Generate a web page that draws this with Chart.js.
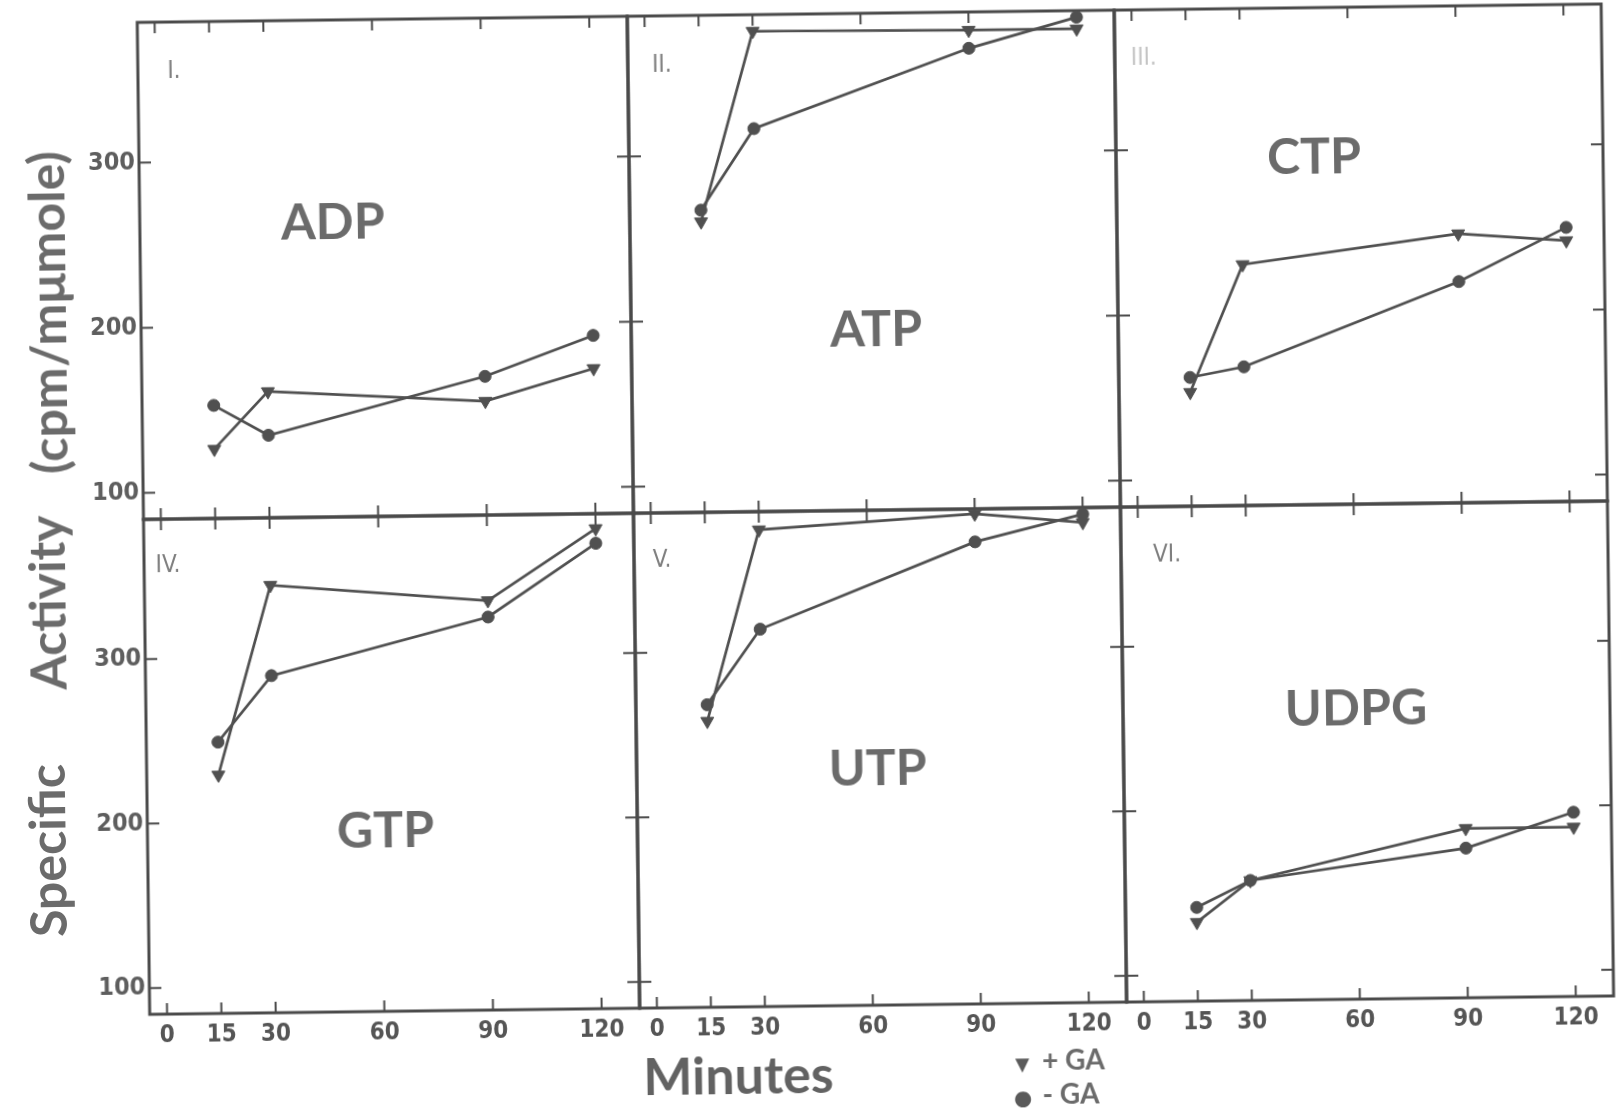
<!DOCTYPE html>
<html>
<head>
<meta charset="utf-8">
<script src="https://cdn.jsdelivr.net/npm/chart.js@4.4.1/dist/chart.umd.min.js"></script>
<style>
  html, body { margin: 0; padding: 0; background: #fff; }
  body { width: 1623px; height: 1112px; overflow: hidden; position: relative; }
  #fig { position: absolute; left: 0; top: 0; width: 1623px; height: 1112px;
         transform: rotate(-0.72deg); transform-origin: 811px 556px; }
  .t { position: absolute; white-space: pre; transform: translate(-50%, -50%); line-height: 1; }
  .pname { font-family: Lato, "Open Sans", sans-serif; font-weight: 700; font-size: 50px; color: #6b6b6b; }
  .num { font-family: "Liberation Sans Narrow", "DejaVu Sans Condensed", sans-serif; font-size: 24px; color: #7e7e7e; }
  .ytitle { font-family: Lato, "Open Sans", sans-serif; font-weight: 700; font-size: 50px; color: #6b6b6b;
            transform: translate(-50%, -50%) rotate(-90deg); }
  .xtitle { font-family: Lato, "Open Sans", sans-serif; font-weight: 700; font-size: 52px; color: #626262; }
  #legend { position: absolute; left: 1003px; top: 1047px; font-family: Lato, "Open Sans", sans-serif;
            font-weight: 700; font-size: 28px; color: #6b6b6b; line-height: 30px; }
  #legend .sym { display: inline-block; width: 26px; text-align: center; vertical-align: middle; color: #5a5a5a; line-height: 30px; }
</style>
</head>
<body>
<div id="fig"></div>
<script>
// ---------------- data ----------------
const minutes = [15, 30, 90, 120];
const xTickValues = [0, 15, 30, 60, 90, 120];
const yTickValues = [100, 200, 300];
const seriesLabels = ['+ GA', '- GA'];

const panelNames = ['ADP', 'ATP', 'CTP', 'GTP', 'UTP', 'UDPG'];
const panelNumerals = ['I.', 'II.', 'III.', 'IV.', 'V.', 'VI.'];

const adpPlusGA   = [126, 160.5, 153, 172];
const adpMinusGA  = [152.5, 134, 168, 192];
const atpPlusGA   = [260, 375, 374, 374];
const atpMinusGA  = [267, 316, 363, 381];
const ctpPlusGA   = [153, 230, 247, 242];
const ctpMinusGA  = [162, 168, 218, 250];
const gtpPlusGA   = [229, 344, 333, 376];
const gtpMinusGA  = [249, 289, 323, 367];
const utpPlusGA   = [258, 374, 382, 376];
const utpMinusGA  = [268, 313.5, 365, 381];
const udpgPlusGA  = [132, 157, 187, 187];
const udpgMinusGA = [141, 157, 175, 196];

const xTitle = 'Minutes';
const yTitleWords = ['Specific', 'Activity', '(cpm/mμmole)'];

// ---------------- layout ----------------
const colX = [144, 634, 1121, 1608];
const rowY = [14, 511, 1006];
const xRange = [-4.8, 130.5];
const yRange = [84, 385];
const INK = '#505050';
const FRAME = '#4a4a4a';

const panels = [
  { plus: adpPlusGA,  minus: adpMinusGA,  row: 0, col: 0, nameAt: [337, 214],  numAt: [180, 62] },
  { plus: atpPlusGA,  minus: atpMinusGA,  row: 0, col: 1, nameAt: [879, 328],  numAt: [668, 62] },
  { plus: ctpPlusGA,  minus: ctpMinusGA,  row: 0, col: 2, nameAt: [1319, 161], numAt: [1150, 61] },
  { plus: gtpPlusGA,  minus: gtpMinusGA,  row: 1, col: 0, nameAt: [382, 823],  numAt: [168, 556] },
  { plus: utpPlusGA,  minus: utpMinusGA,  row: 1, col: 1, nameAt: [875, 767],  numAt: [662, 557] },
  { plus: udpgPlusGA, minus: udpgMinusGA, row: 1, col: 2, nameAt: [1354, 713], numAt: [1167, 558] }
];

const fig = document.getElementById('fig');

const framePlugin = {
  id: 'frameTicks',
  beforeDatasetsDraw(chart) {
    const { ctx, chartArea: a, scales } = chart;
    ctx.save();
    ctx.strokeStyle = FRAME;
    ctx.lineWidth = 3;
    ctx.strokeRect(a.left, a.top, a.right - a.left, a.bottom - a.top);
    ctx.lineWidth = 2;
    ctx.beginPath();
    xTickValues.forEach(v => {
      const px = scales.x.getPixelForValue(v);
      ctx.moveTo(px, a.bottom); ctx.lineTo(px, a.bottom - 11);
      ctx.moveTo(px, a.top); ctx.lineTo(px, a.top + 11);
    });
    yTickValues.forEach(v => {
      const py = scales.y.getPixelForValue(v);
      ctx.moveTo(a.left, py); ctx.lineTo(a.left + 12, py);
      ctx.moveTo(a.right, py); ctx.lineTo(a.right - 12, py);
    });
    ctx.stroke();
    ctx.restore();
  }
};

const tickFamily = "'Liberation Sans Narrow', 'Arial Narrow', 'DejaVu Sans Condensed', sans-serif";

panels.forEach((p, i) => {
  const L = colX[p.col], R = colX[p.col + 1], T = rowY[p.row], B = rowY[p.row + 1];
  const W = R - L, H = B - T;
  const padL = 70, padR = 30, padT = 30, padB = 50;
  const cv = document.createElement('canvas');
  cv.width = W + padL + padR;
  cv.height = H + padT + padB;
  cv.style.cssText = `position:absolute;left:${L - padL}px;top:${T - padT}px;width:${cv.width}px;height:${cv.height}px;`;
  fig.appendChild(cv);

  const pts = arr => minutes.map((m, k) => ({ x: m, y: arr[k] }));

  new Chart(cv, {
    type: 'line',
    data: {
      datasets: [
        { label: seriesLabels[0], data: pts(p.plus), borderColor: INK, backgroundColor: INK,
          borderWidth: 2.7, pointStyle: 'triangle', pointRotation: 180, pointRadius: 7.5,
          pointBackgroundColor: INK, pointBorderColor: INK, pointBorderWidth: 1, tension: 0, clip: false },
        { label: seriesLabels[1], data: pts(p.minus), borderColor: INK, backgroundColor: INK,
          borderWidth: 2.7, pointStyle: 'circle', pointRadius: 6,
          pointBackgroundColor: INK, pointBorderColor: INK, pointBorderWidth: 1, tension: 0, clip: false }
      ]
    },
    options: {
      responsive: false, animation: false, devicePixelRatio: 1,
      layout: { padding: { left: 0, right: padR, top: padT, bottom: 0 } },
      plugins: { legend: { display: false }, tooltip: { enabled: false } },
      scales: {
        x: {
          type: 'linear', min: xRange[0], max: xRange[1],
          afterBuildTicks: s => { s.ticks = xTickValues.map(v => ({ value: v })); },
          afterFit: s => { s.height = padB; },
          grid: { display: false, drawTicks: false }, border: { display: false },
          ticks: { display: p.row === 1, font: { family: tickFamily, size: 24, weight: 'bold' }, color: '#555', padding: 7,
                   maxRotation: 0, autoSkip: false, callback: v => String(v) }
        },
        y: {
          type: 'linear', min: yRange[0], max: yRange[1],
          afterBuildTicks: s => { s.ticks = yTickValues.map(v => ({ value: v })); },
          afterFit: s => { s.width = padL; },
          grid: { display: false, drawTicks: false }, border: { display: false },
          ticks: { display: p.col === 0, font: { family: tickFamily, size: 25, weight: 'bold' }, color: '#5e5e5e', padding: 4,
                   autoSkip: false, callback: v => String(v) }
        }
      }
    },
    plugins: [framePlugin]
  });

  const nm = document.createElement('div');
  nm.className = 't pname';
  nm.textContent = panelNames[i];
  nm.style.left = p.nameAt[0] + 'px';
  nm.style.top = p.nameAt[1] + 'px';
  fig.appendChild(nm);

  const nu = document.createElement('div');
  nu.className = 't num';
  nu.textContent = panelNumerals[i];
  nu.style.left = p.numAt[0] + 'px';
  nu.style.top = p.numAt[1] + 'px';
  if (i === 2) nu.style.color = '#c4c4c4';
  fig.appendChild(nu);
});

// axis titles
const yTitlePos = [[43, 841], [46, 593], [50, 303]];
yTitleWords.forEach((w, k) => {
  const d = document.createElement('div');
  d.className = 't ytitle';
  d.textContent = w;
  d.style.left = yTitlePos[k][0] + 'px';
  d.style.top = yTitlePos[k][1] + 'px';
  fig.appendChild(d);
});
const xt = document.createElement('div');
xt.className = 't xtitle';
xt.textContent = xTitle;
xt.style.left = '732px';
xt.style.top = '1073px';
fig.appendChild(xt);

// legend
const lg = document.createElement('div');
lg.id = 'legend';
lg.innerHTML = '<div><span class="sym" style="font-size:24px">▼</span> ' + seriesLabels[0] + '</div>' +
               '<div><span class="sym" style="font-size:32px">●</span> ' + seriesLabels[1] + '</div>';
fig.appendChild(lg);
</script>
</body>
</html>
